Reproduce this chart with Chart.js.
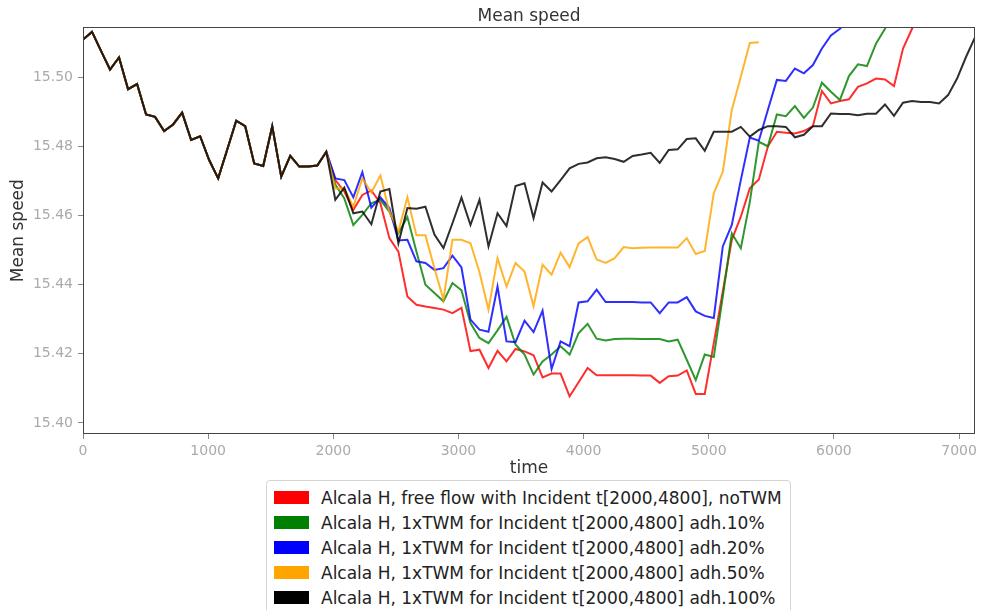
<!DOCTYPE html>
<html>
<head>
<meta charset="utf-8">
<title>Mean speed</title>
<script src="https://cdn.jsdelivr.net/npm/chart.js@4/dist/chart.umd.min.js"></script>
<style>
    html, body { margin: 0; padding: 0; background: #fff; overflow: hidden; }
    #wrap { position: relative; width: 981px; height: 610px; }
    #legend {
        position: absolute; left: 266px; top: 480px;
        padding: 4px 8px 10px 7px;
        border: 1px solid #d4d4d4; border-radius: 4px; background: #fff;
        font-family: 'DejaVu Sans', sans-serif; font-size: 17px; color: #222;
    }
    .leg_row { display: flex; align-items: center; height: 25px; white-space: nowrap; }
    .leg_box { width: 35px; height: 13px; margin-right: 12px; }
</style>
</head>
<body>
<div id="wrap">
    <canvas id="speedChart" width="981" height="610"></canvas>
    <div id="legend"></div>
</div>
<script>
// time axis (s), one sample every 72 s
const times = [0, 72, 144, 216, 288, 360, 432, 504, 576, 648, 720, 792, 864, 936, 1008, 1080, 1152, 1224, 1296, 1368,
    1440, 1512, 1584, 1656, 1728, 1800, 1872, 1944, 2016, 2088, 2160, 2232, 2304, 2376, 2448, 2520, 2592, 2664, 2736, 2808,
    2880, 2952, 3024, 3096, 3168, 3240, 3312, 3384, 3456, 3528, 3600, 3672, 3744, 3816, 3888, 3960, 4032, 4104, 4176, 4248,
    4320, 4392, 4464, 4536, 4608, 4680, 4752, 4824, 4896, 4968, 5040, 5112, 5184, 5256, 5328, 5400, 5472, 5544, 5616, 5688,
    5760, 5832, 5904, 5976, 6048, 6120, 6192, 6264, 6336, 6408, 6480, 6552, 6624, 6696, 6768, 6840, 6912, 6984, 7056, 7128];

// all runs are identical before the incident
const sharedStart = [15.5110, 15.5132, 15.5077, 15.5023, 15.5058, 15.4966, 15.4981, 15.4893, 15.4886, 15.4845,
    15.4864, 15.4898, 15.4819, 15.4830, 15.4761, 15.4708, 15.4791, 15.4875, 15.4859, 15.4751,
    15.4744, 15.4859, 15.4713, 15.4773, 15.4742, 15.4742, 15.4745, 15.4785];

const redTail = [15.4703, 15.4670, 15.4617, 15.4660, 15.4673, 15.4636, 15.4535, 15.4496, 15.4366, 15.4342,
    15.4337, 15.4333, 15.4328, 15.4318, 15.4333, 15.4208, 15.4212, 15.4159, 15.4209, 15.4178,
    15.4214, 15.4207, 15.4196, 15.4132, 15.4143, 15.4143, 15.4077, 15.4118, 15.4159, 15.4138,
    15.4138, 15.4138, 15.4138, 15.4138, 15.4137, 15.4137, 15.4116, 15.4135, 15.4137, 15.4152,
    15.4084, 15.4084, 15.4231, 15.4381, 15.4530, 15.4597, 15.4679, 15.4705, 15.4800, 15.4843,
    15.4840, 15.4838, 15.4845, 15.4859, 15.4961, 15.4925, 15.4932, 15.4937, 15.4973, 15.4983,
    15.4997, 15.4994, 15.4975, 15.5084, 15.5141, 15.5200];

const greenTail = [15.4690, 15.4650, 15.4573, 15.4602, 15.4636, 15.4646, 15.4612, 15.4549, 15.4596, 15.4496,
    15.4400, 15.4376, 15.4352, 15.4405, 15.4384, 15.4289, 15.4246, 15.4231, 15.4268, 15.4307,
    15.4227, 15.4198, 15.4140, 15.4178, 15.4198, 15.4222, 15.4198, 15.4260, 15.4287, 15.4244,
    15.4239, 15.4243, 15.4244, 15.4244, 15.4243, 15.4243, 15.4243, 15.4236, 15.4241, 15.4183,
    15.4124, 15.4198, 15.4191, 15.4366, 15.4549, 15.4506, 15.4640, 15.4814, 15.4801, 15.4893,
    15.4888, 15.4917, 15.4883, 15.4913, 15.4985, 15.4959, 15.4935, 15.5004, 15.5038, 15.5033,
    15.5098, 15.5141, 15.5190];

const blueTail = [15.4708, 15.4703, 15.4653, 15.4726, 15.4623, 15.4653, 15.4622, 15.4528, 15.4530, 15.4468,
    15.4463, 15.4443, 15.4448, 15.4484, 15.4450, 15.4299, 15.4270, 15.4264, 15.4395, 15.4236,
    15.4234, 15.4296, 15.4263, 15.4325, 15.4156, 15.4236, 15.4222, 15.4349, 15.4352, 15.4386,
    15.4350, 15.4350, 15.4350, 15.4350, 15.4349, 15.4349, 15.4318, 15.4349, 15.4349, 15.4364,
    15.4323, 15.4310, 15.4304, 15.4511, 15.4573, 15.4703, 15.4826, 15.4817, 15.4906, 15.4993,
    15.4990, 15.5026, 15.5012, 15.5036, 15.5084, 15.5122, 15.5141, 15.5170];

const orangeTail = [15.4679, 15.4679, 15.4626, 15.4708, 15.4667, 15.4716, 15.4612, 15.4554, 15.4653, 15.4543,
    15.4543, 15.4448, 15.4357, 15.4530, 15.4530, 15.4520, 15.4436, 15.4328, 15.4477, 15.4395,
    15.4463, 15.4438, 15.4338, 15.4458, 15.4429, 15.4493, 15.4451, 15.4520, 15.4538, 15.4473,
    15.4463, 15.4477, 15.4509, 15.4506, 15.4507, 15.4508, 15.4508, 15.4508, 15.4508, 15.4535,
    15.4489, 15.4498, 15.4665, 15.4727, 15.4906, 15.5002, 15.5100, 15.5102];

const blackTail = [15.4646, 15.4681, 15.4607, 15.4612, 15.4575, 15.4670, 15.4677, 15.4520, 15.4622, 15.4620,
    15.4626, 15.4545, 15.4506, 15.4578, 15.4652, 15.4573, 15.4646, 15.4511, 15.4607, 15.4570,
    15.4686, 15.4694, 15.4593, 15.4696, 15.4670, 15.4703, 15.4737, 15.4750, 15.4754, 15.4766,
    15.4769, 15.4764, 15.4756, 15.4773, 15.4777, 15.4782, 15.4753, 15.4790, 15.4792, 15.4822,
    15.4824, 15.4788, 15.4843, 15.4843, 15.4843, 15.4857, 15.4829, 15.4848, 15.4859, 15.4859,
    15.4857, 15.4827, 15.4834, 15.4859, 15.4859, 15.4896, 15.4894, 15.4894, 15.4891, 15.4895,
    15.4895, 15.4922, 15.4889, 15.4927, 15.4932, 15.4929, 15.4929, 15.4925, 15.4949, 15.4997,
    15.5060, 15.5117];

const seriesLabels = [
    'Alcala H, free flow with Incident t[2000,4800], noTWM',
    'Alcala H, 1xTWM for Incident t[2000,4800] adh.10%',
    'Alcala H, 1xTWM for Incident t[2000,4800] adh.20%',
    'Alcala H, 1xTWM for Incident t[2000,4800] adh.50%',
    'Alcala H, 1xTWM for Incident t[2000,4800] adh.100%'
];
const seriesColors = ['#ff0000', '#008000', '#0000ff', '#ffa500', '#000000'];
const seriesValues = [
    sharedStart.concat(redTail),
    sharedStart.concat(greenTail),
    sharedStart.concat(blueTail),
    sharedStart.concat(orangeTail),
    sharedStart.concat(blackTail)
];

const xTicks = [0, 1000, 2000, 3000, 4000, 5000, 6000, 7000];
const yTicks = [15.40, 15.42, 15.44, 15.46, 15.48, 15.50];

const FONT = "'DejaVu Sans', sans-serif";

function toPoints(values) {
    return values.map((v, i) => ({ x: times[i], y: v }));
}

function withAlpha(hex, a) {
    const n = parseInt(hex.slice(1), 16);
    return `rgba(${n >> 16}, ${(n >> 8) & 255}, ${n & 255}, ${a})`;
}

// matplotlib style box round the plot area
const framePlugin = {
    id: 'frame',
    afterDatasetsDraw(chart) {
        const { ctx, chartArea: a } = chart;
        ctx.save();
        ctx.strokeStyle = '#444';
        ctx.lineWidth = 1;
        const l = Math.round(a.left) + 0.5, t = Math.round(a.top) + 0.5;
        const r = Math.round(a.right) - 0.5, b = Math.round(a.bottom) - 0.5;
        ctx.strokeRect(l, t, r - l, b - t);
        ctx.restore();
    }
};

function initChart() {
    const ctx = document.getElementById('speedChart');

    const datasets = seriesValues.map((vals, i) => ({
        label: seriesLabels[i],
        data: toPoints(vals),
        borderColor: withAlpha(seriesColors[i], 0.82),
        backgroundColor: seriesColors[i],
        borderWidth: 2,
        pointRadius: 0,
        tension: 0,
        fill: false,
        clip: 0,
        order: seriesValues.length - i
    }));

    new Chart(ctx, {
        type: 'line',
        data: { datasets: datasets },
        plugins: [framePlugin],
        options: {
            responsive: false,
            animation: false,
            devicePixelRatio: 1,
            layout: { padding: { left: 0, right: 3, top: 0, bottom: 126 } },
            plugins: {
                legend: { display: false },
                tooltip: { enabled: false },
                title: {
                    display: true,
                    fullSize: false,
                    text: 'Mean speed',
                    color: '#333',
                    font: { family: FONT, size: 17, weight: 'normal' },
                    padding: { top: 6, bottom: 1 }
                }
            },
            scales: {
                x: {
                    type: 'linear',
                    min: times[0],
                    max: times[times.length - 1],
                    afterBuildTicks: scale => { scale.ticks = xTicks.map(v => ({ value: v })); },
                    afterFit: scale => { scale.height = 50; },
                    grid: { display: true, drawOnChartArea: false, tickLength: 5, tickColor: '#888' },
                    border: { display: false },
                    ticks: {
                        color: '#aaa',
                        padding: 4,
                        maxRotation: 0,
                        font: { family: FONT, size: 14 },
                        callback: v => String(v)
                    },
                    title: {
                        display: true,
                        text: 'time',
                        color: '#333',
                        font: { family: FONT, size: 17 },
                        padding: { top: 0, bottom: 5 }
                    }
                },
                y: {
                    min: 15.3968,
                    max: 15.5145,
                    afterBuildTicks: scale => { scale.ticks = yTicks.map(v => ({ value: v })); },
                    afterFit: scale => { scale.width = 83; },
                    grid: { display: true, drawOnChartArea: false, tickLength: 5, tickColor: '#888' },
                    border: { display: false },
                    ticks: {
                        color: '#aaa',
                        padding: 5,
                        font: { family: FONT, size: 14 },
                        callback: v => Number(v).toFixed(2)
                    },
                    title: {
                        display: true,
                        text: 'Mean speed',
                        color: '#333',
                        font: { family: FONT, size: 17 },
                        padding: { top: 8, bottom: 0 }
                    }
                }
            }
        }
    });
}

function buildLegend() {
    const box = document.getElementById('legend');
    seriesLabels.forEach((label, i) => {
        const row = document.createElement('div');
        row.className = 'leg_row';
        const swatch = document.createElement('span');
        swatch.className = 'leg_box';
        swatch.style.background = seriesColors[i];
        const text = document.createElement('span');
        text.textContent = label;
        row.appendChild(swatch);
        row.appendChild(text);
        box.appendChild(row);
    });
}

initChart();
buildLegend();
</script>
</body>
</html>
